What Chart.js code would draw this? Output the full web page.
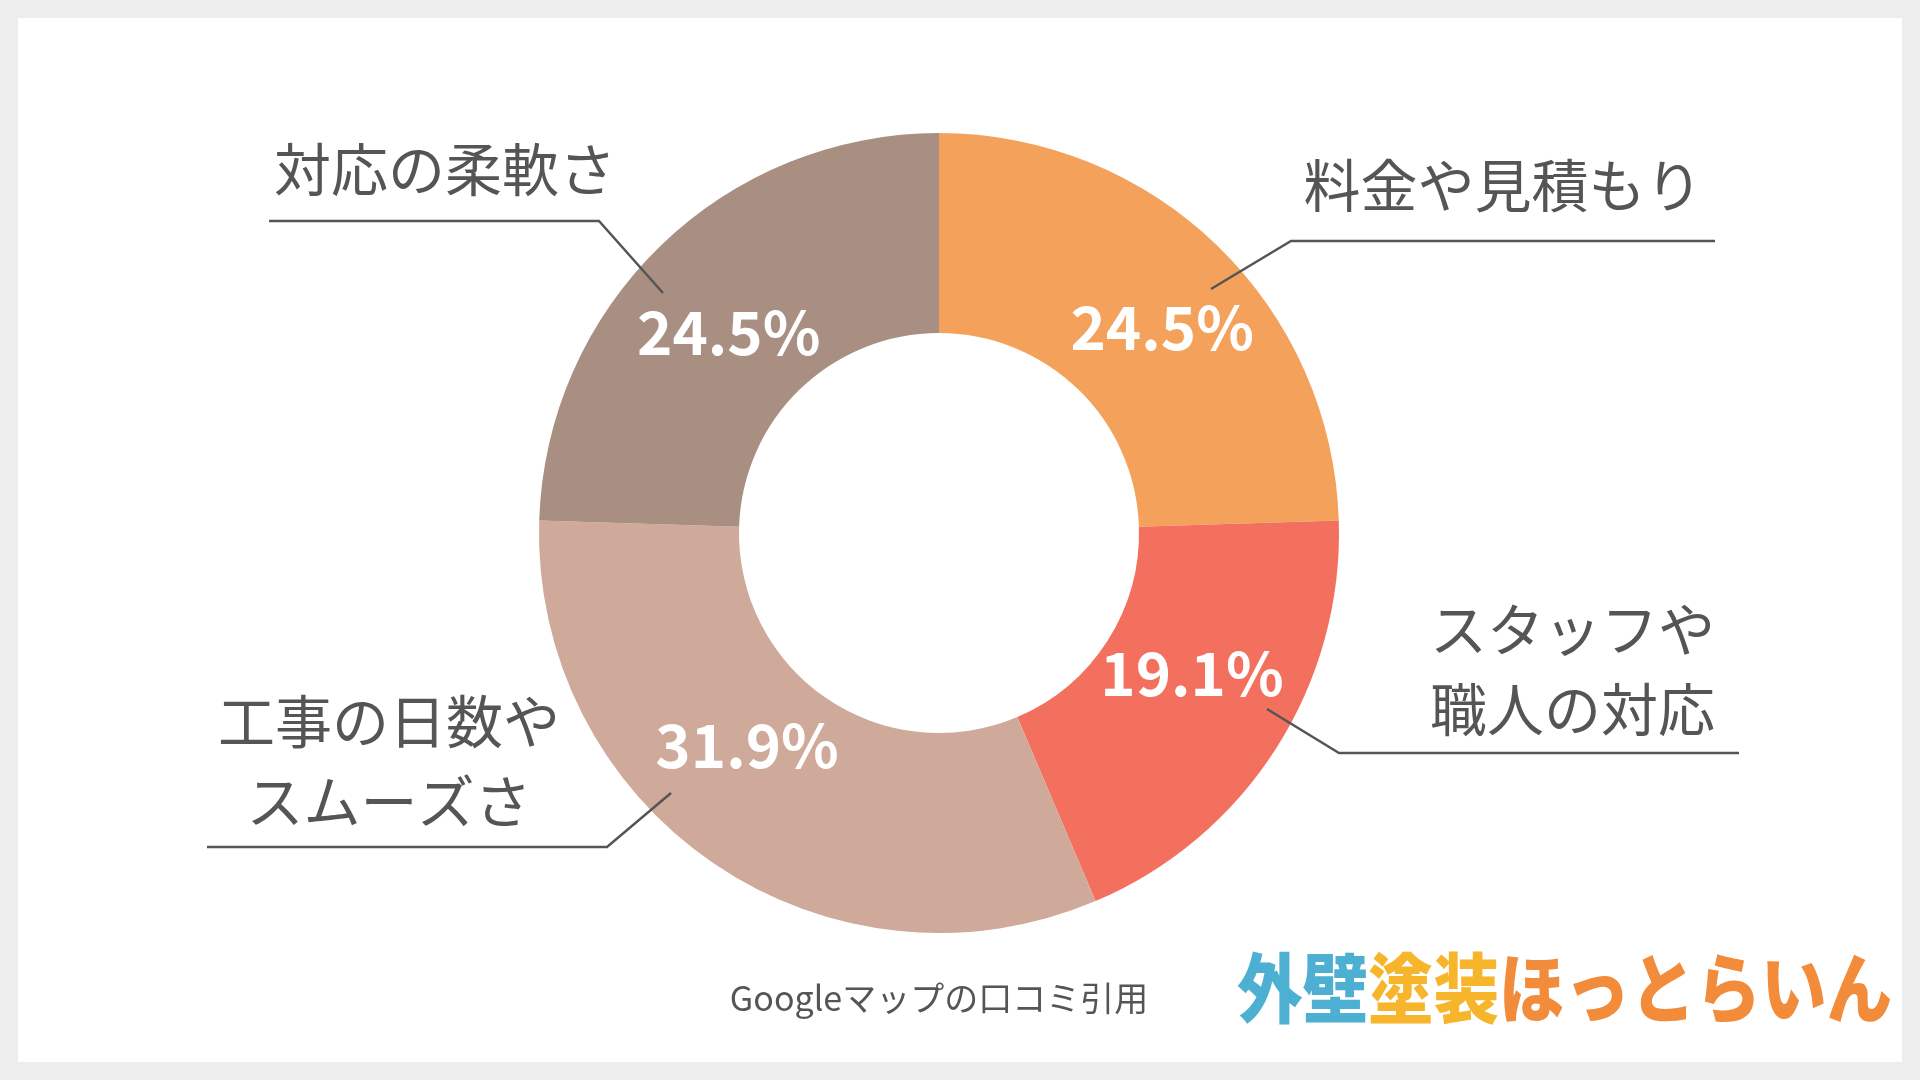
<!DOCTYPE html>
<html><head><meta charset="utf-8">
<script src="https://cdn.jsdelivr.net/npm/chart.js@4/dist/chart.umd.min.js"></script>
<style>
html,body{margin:0;padding:0;background:#ededed;width:1920px;height:1080px;overflow:hidden}
#card{position:absolute;left:18px;top:18px;width:1884px;height:1044px;background:#fff}
#c{position:absolute;left:0;top:0}
</style></head><body>
<div id="card"></div>
<canvas id="c" width="1920" height="1080"></canvas>
<script>
const categories = ["料金や見積もり", "スタッフや職人の対応", "工事の日数やスムーズさ", "対応の柔軟さ"];
const values = [24.5, 19.1, 31.9, 24.5];
const colors = ["#F4A25B", "#F36F5E", "#CFA99A", "#A98E82"];
const calloutLines = [["料金や見積もり"], ["スタッフや", "職人の対応"], ["工事の日数や", "スムーズさ"], ["対応の柔軟さ"]];
const sourceText = "Googleマップの口コミ引用";

const FONT = '"Noto Sans CJK JP","Noto Sans",sans-serif';
const callouts = {
  id: 'callouts',
  afterDatasetsDraw(chart) {
    const ctx = chart.ctx;
    const meta = chart.getDatasetMeta(0);
    const arc0 = meta.data[0];
    const cx = arc0.x, cy = arc0.y, R = arc0.outerRadius;
    ctx.save();
    ctx.fillStyle = '#fff';
    ctx.font = 'bold 60px ' + FONT;
    ctx.textAlign = 'center'; ctx.textBaseline = 'middle';
    const nudge = [[20, 4], [7, -17], [-27, -29], [-7, 9]];
    meta.data.forEach((a, i) => {
      const m = (a.startAngle + a.endAngle) / 2;
      const r = R * 0.73;
      ctx.fillText(values[i].toFixed(1) + '%', cx + Math.cos(m) * r + nudge[i][0], cy + Math.sin(m) * r + nudge[i][1]);
    });
    const L = [
      [[0.68, -0.61], [0.88, -0.73], [1.94, -0.73]],
      [[0.82, 0.44], [1.0, 0.55], [2.0, 0.55]],
      [[-0.67, 0.65], [-0.83, 0.785], [-1.83, 0.785]],
      [[-0.69, -0.60], [-0.85, -0.78], [-1.675, -0.78]]
    ];
    ctx.strokeStyle = '#555'; ctx.lineWidth = 2.5;
    L.forEach(p => {
      ctx.beginPath();
      p.forEach((q, j) => { const x = cx + q[0] * R, y = cy + q[1] * R; j ? ctx.lineTo(x, y) : ctx.moveTo(x, y); });
      ctx.stroke();
    });
    ctx.fillStyle = '#555';
    ctx.font = '57px ' + FONT;
    const T = [
      {x: 1.41, y: -0.87, a: 'center'},
      {x: 1.94, y: 0.24, a: 'right', dy: 0.2},
      {x: -1.375, y: 0.47, a: 'center', dy: 0.2},
      {x: -1.235, y: -0.91, a: 'center'}
    ];
    T.forEach((t, i) => {
      ctx.textAlign = t.a;
      calloutLines[i].forEach((s, k) => ctx.fillText(s, cx + t.x * R, cy + (t.y + k * (t.dy || 0)) * R));
    });
    ctx.font = '34px ' + FONT;
    ctx.textAlign = 'center';
    ctx.fillText(sourceText, cx, 998);
    ctx.font = '900 76px ' + FONT;
    ctx.textAlign = 'left';
    const parts = [["外壁", "#4DB0D3"], ["塗装", "#F7B52C"], ["ほっとらいん", "#F28B3A"]];
    let total = 0; parts.forEach(p => total += ctx.measureText(p[0]).width);
    const s = 655 / total;
    ctx.translate(1237, 988); ctx.scale(s, 1);
    let x = 0;
    parts.forEach(p => { ctx.fillStyle = p[1]; ctx.fillText(p[0], x, 0); x += ctx.measureText(p[0]).width; });
    ctx.restore();
  }
};

new Chart(document.getElementById('c'), {
  type: 'doughnut',
  data: { labels: categories, datasets: [{ data: values, backgroundColor: colors, borderWidth: 0 }] },
  options: {
    responsive: false, animation: false, cutout: '50%',
    layout: { padding: { left: 539, right: 581, top: 133, bottom: 147 } },
    plugins: { legend: { display: false }, tooltip: { enabled: false } }
  },
  plugins: [callouts]
});
</script></body></html>
